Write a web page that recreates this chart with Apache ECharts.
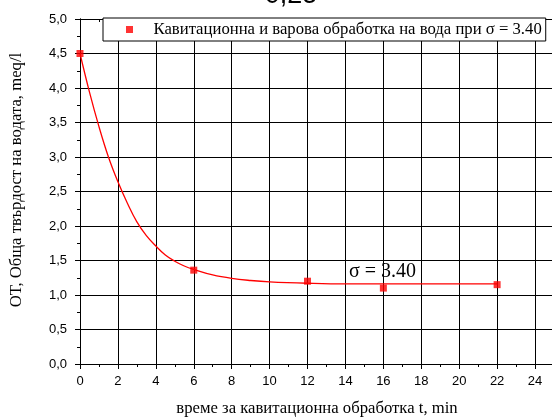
<!DOCTYPE html>
<html>
<head>
<meta charset="utf-8">
<script src="https://cdn.jsdelivr.net/npm/echarts@6/dist/echarts.min.js"></script>
<style>
  html, body { margin: 0; padding: 0; background: #fff; }
  #chart { width: 552px; height: 417px; }
</style>
</head>
<body>
<div id="chart"></div>
<script>
// Measured hardness after cavitation treatment (σ = 3.40)
const pointTime = [0, 6, 12, 16, 22];
const pointHardness = [4.50, 1.36, 1.20, 1.10, 1.15];

// Fitted decay curve
const curveTime = [0, 0.5, 1, 1.5, 2, 2.5, 3, 3.5, 4, 4.5, 5, 5.5, 6, 7, 8, 9, 10, 12, 14, 16, 18, 20, 22];
const curveHardness = [4.50, 3.94, 3.44, 3.00, 2.64, 2.33, 2.06, 1.86, 1.71, 1.58, 1.49, 1.42, 1.37, 1.29, 1.24, 1.21, 1.19, 1.17, 1.16, 1.16, 1.16, 1.16, 1.16];

const titleText = '0,25';
const seriesName = 'Кавитационна и варова обработка на вода при σ = 3.40';
const sigmaNote = 'σ = 3.40';
const xName = 'време за кавитационна обработка t, min';
const yName = 'ОТ, Обща твърдост на водата, meq/l';

const SERIF = 'Liberation Serif';
const SANS = 'Liberation Sans';
const INK = '#000';

const chart = echarts.init(document.getElementById('chart'), null, { renderer: 'canvas' });

const zip = (a, b) => a.map((v, i) => [v, b[i]]);

const xBase = { type: 'value', min: 0, max: 25, gridIndex: 0 };
const yBase = { type: 'value', min: 0, max: 5, interval: 0.5, gridIndex: 0 };

chart.setOption({
  animation: false,
  backgroundColor: '#fff',
  grid: { left: 80, right: -2, top: 19, bottom: 53, containLabel: false, outerBoundsMode: 'none' },
  legend: {
    data: [seriesName],
    left: 103,
    top: 18,
    orient: 'horizontal',
    padding: [3, 4, 3, 23],
    itemWidth: 38,
    itemHeight: 7,
    itemGap: 0,
    icon: 'path://M0,0H1V1H0Z',
    symbolKeepAspect: true,
    backgroundColor: '#fff',
    borderColor: INK,
    borderWidth: 1,
    borderRadius: 0,
    selectedMode: false,
    textStyle: { fontFamily: SERIF, fontSize: 16.7, lineHeight: 17, color: INK, padding: 0 }
  },
  xAxis: [
    Object.assign({}, xBase, {
      position: 'bottom', interval: 2,
      axisLine: { show: true, lineStyle: { color: INK, width: 1 } },
      axisTick: { show: true, inside: false, length: 5, lineStyle: { color: INK, width: 1 } },
      axisLabel: {
        show: true, margin: 11, color: INK, fontFamily: SANS, fontSize: 13,
        formatter: v => (v > 24 ? '' : String(v))
      },
      splitLine: { show: true, lineStyle: { color: INK, width: 1 } },
      name: xName, nameLocation: 'middle', nameGap: 36,
      nameTextStyle: { fontFamily: SERIF, fontSize: 16.7, color: INK }
    }),
    Object.assign({}, xBase, {
      position: 'bottom', interval: 1,
      axisLine: { show: false },
      axisTick: { show: true, inside: false, length: 3, lineStyle: { color: INK, width: 1 } },
      axisLabel: { show: false }, splitLine: { show: false }
    }),
    Object.assign({}, xBase, {
      position: 'top', interval: 2,
      axisLine: { show: true, lineStyle: { color: INK, width: 1 } },
      axisTick: { show: true, inside: true, length: 5, lineStyle: { color: INK, width: 1 } },
      axisLabel: { show: false }, splitLine: { show: false }
    }),
    Object.assign({}, xBase, {
      position: 'top', interval: 1,
      axisLine: { show: false },
      axisTick: { show: true, inside: true, length: 3, lineStyle: { color: INK, width: 1 } },
      axisLabel: { show: false }, splitLine: { show: false }
    })
  ],
  yAxis: [
    Object.assign({}, yBase, {
      position: 'left',
      axisLine: { show: true, lineStyle: { color: INK, width: 1 } },
      axisTick: { show: true, inside: false, length: 5, lineStyle: { color: INK, width: 1 } },
      minorTick: { show: true, splitNumber: 2, length: 3, lineStyle: { color: INK, width: 1 } },
      axisLabel: {
        show: true, margin: 13, color: INK, fontFamily: SANS, fontSize: 13,
        formatter: v => v.toFixed(1).replace('.', ',')
      },
      splitLine: { show: true, lineStyle: { color: INK, width: 1 } }
    }),
    Object.assign({}, yBase, {
      position: 'right',
      axisLine: { show: true, lineStyle: { color: INK, width: 1 } },
      axisTick: { show: true, inside: true, length: 5, lineStyle: { color: INK, width: 1 } },
      minorTick: { show: true, splitNumber: 2, length: 3, lineStyle: { color: INK, width: 1 } },
      axisLabel: { show: false }, splitLine: { show: false }
    })
  ],
  series: [
    {
      name: 'fit',
      type: 'line',
      xAxisIndex: 0, yAxisIndex: 0,
      data: zip(curveTime, curveHardness),
      smooth: 0.4,
      showSymbol: false,
      symbol: 'none',
      lineStyle: { color: '#ff0000', width: 1.3 },
      z: 3,
      silent: true
    },
    {
      name: seriesName,
      type: 'scatter',
      xAxisIndex: 0, yAxisIndex: 0,
      data: zip(pointTime, pointHardness),
      symbol: 'rect',
      symbolSize: 7,
      itemStyle: { color: '#ff0000' },
      clip: false,
      z: 4
    }
  ]
});

// Title (partly above the canvas), y-axis title, and the σ note placed in data space
const notePos = chart.convertToPixel({ gridIndex: 0 }, [14.19, 1.333]);
chart.setOption({
  graphic: [
    {
      type: 'text', x: 291, y: -4, silent: true,
      style: { text: titleText, fontFamily: SANS, fontSize: 27, fill: INK, align: 'center', verticalAlign: 'middle' }
    },
    {
      type: 'text', x: 17, y: 180, rotation: Math.PI / 2, silent: true,
      style: { text: yName, fontFamily: SERIF, fontSize: 16.7, fill: INK, align: 'center', verticalAlign: 'middle' }
    },
    {
      type: 'text', x: notePos[0], y: notePos[1], silent: true, z: 10,
      style: { text: sigmaNote, fontFamily: SERIF, fontSize: 20, fill: INK, align: 'left', verticalAlign: 'middle' }
    }
  ]
});
</script>
</body>
</html>
